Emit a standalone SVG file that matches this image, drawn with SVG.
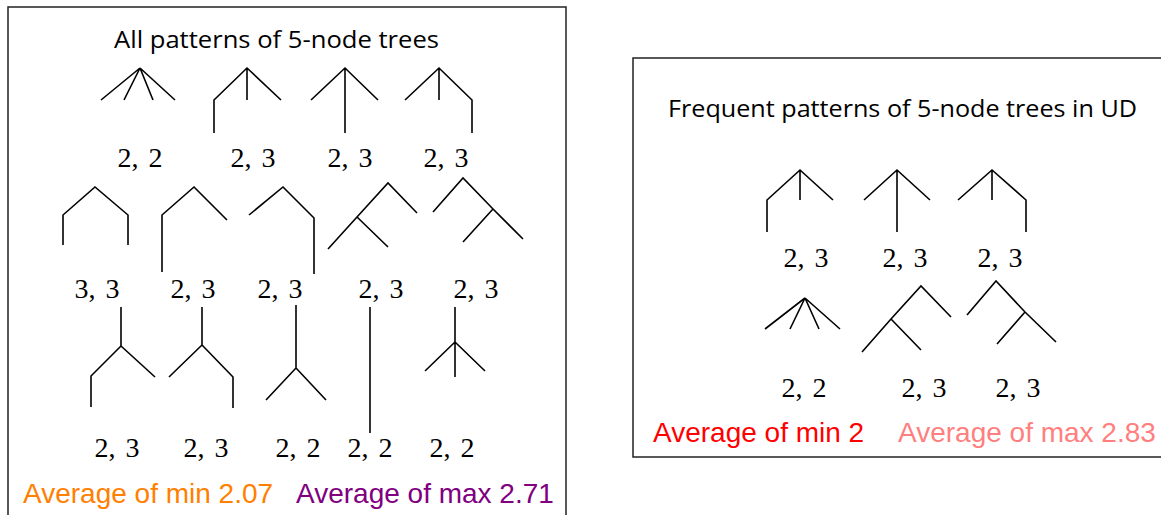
<svg xmlns="http://www.w3.org/2000/svg" width="1161" height="515" viewBox="0 0 1161 515">
<style>
.box{fill:#fff;stroke:#222;stroke-width:1.5}
.t{stroke:#000;stroke-width:1.6;fill:none;stroke-linejoin:miter;stroke-linecap:butt}
.title{font-family:"Open Sans","Liberation Sans",Arial,sans-serif;font-size:23px;fill:#000}
.num{font-family:"Liberation Serif","DejaVu Serif",serif;font-size:28px;fill:#000;word-spacing:3px;text-anchor:middle}
.avg{font-family:"Liberation Sans",Arial,sans-serif;font-size:28px}
</style>
<rect width="1161" height="515" fill="#fff"/>
<g id="left-panel">
<rect class="box" x="8" y="7" width="558" height="520"/>
<text class="title" x="114" y="48" textLength="325" lengthAdjust="spacingAndGlyphs">All patterns of 5-node trees</text>
</g>
<g id="right-panel">
<rect class="box" x="633" y="58" width="540" height="399"/>
<text class="title" x="668" y="117" textLength="469" lengthAdjust="spacingAndGlyphs">Frequent patterns of 5-node trees in UD</text>
</g>
<g id="trees">
<g id="t1"><path class="t" d="M140,68 L101,100 M140,68 L124,100 M140,68 L153,100 M140,68 L175,100"/><text class="num" x="140" y="167">2, 2</text></g>
<g id="t2"><path class="t" d="M214,133 L214,100 L247,68 L281,100 M247,68 L247,100"/><text class="num" x="253" y="167">2, 3</text></g>
<g id="t3"><path class="t" d="M311,100 L345,68 L378,100 M345,68 L345,133"/><text class="num" x="350" y="167">2, 3</text></g>
<g id="t4"><path class="t" d="M405,100 L439,68 L472,100 L472,133 M439,68 L439,100"/><text class="num" x="446" y="167">2, 3</text></g>
<g id="t5"><path class="t" d="M63,245 L63,215 L95,187 L128,215 L128,245"/><text class="num" x="97" y="298">3, 3</text></g>
<g id="t6"><path class="t" d="M162,272 L162,215 L194,187 L227,220"/><text class="num" x="193" y="298">2, 3</text></g>
<g id="t7"><path class="t" d="M249,215 L283,187 L314,218 L314,274"/><text class="num" x="280" y="298">2, 3</text></g>
<g id="t8"><path class="t" d="M328,249 L357,217 L388,183 L417,213 M357,217 L388,247"/><text class="num" x="381" y="298">2, 3</text></g>
<g id="t9"><path class="t" d="M433,212 L463,178 L493,209 L523,239 M493,209 L463,242"/><text class="num" x="476" y="298">2, 3</text></g>
<g id="t10"><path class="t" d="M121,307 L121,346 L91,376 L91,407 M121,346 L155,377"/><text class="num" x="117" y="457">2, 3</text></g>
<g id="t11"><path class="t" d="M202,307 L202,345 L169,377 M202,345 L233,377 L233,408"/><text class="num" x="206" y="457">2, 3</text></g>
<g id="t12"><path class="t" d="M296,305 L296,368 L266,400 M296,368 L326,400"/><text class="num" x="298" y="457">2, 2</text></g>
<g id="t13"><path class="t" d="M370,307 L370,433"/><text class="num" x="370" y="457">2, 2</text></g>
<g id="t14"><path class="t" d="M455,307 L455,377 M455,342 L425,371 M455,342 L485,371"/><text class="num" x="452" y="457">2, 2</text></g>
<g id="r1"><path class="t" d="M767,232 L767,200 L800,170 L833,200 M800,170 L800,200"/><text class="num" x="806" y="267">2, 3</text></g>
<g id="r2"><path class="t" d="M864,200 L897,170 L930,200 M897,170 L897,232"/><text class="num" x="905" y="267">2, 3</text></g>
<g id="r3"><path class="t" d="M958,200 L992,170 L1026,200 L1026,232 M992,170 L992,200"/><text class="num" x="1000" y="267">2, 3</text></g>
<g id="r4"><path class="t" d="M805,298 L765,329 M805,298 L790,329 M805,298 L819,329 M805,298 L840,329"/><text class="num" x="804" y="397">2, 2</text></g>
<g id="r5"><path class="t" d="M862,352 L891,319 L921,286 L951,317 M891,319 L921,350"/><text class="num" x="924" y="397">2, 3</text></g>
<g id="r6"><path class="t" d="M967,315 L996,281 L1025,312 L1056,342 M1025,312 L997,344"/><text class="num" x="1018" y="397">2, 3</text></g>
</g>
<g id="averages">
<text class="avg" x="23" y="503" fill="#FF8000">Average of min 2.07</text>
<text class="avg" x="296" y="503" fill="#800080">Average of max 2.71</text>
<text class="avg" x="653" y="442" fill="#FF0000">Average of min 2</text>
<text class="avg" x="898" y="442" fill="#FF7F7F">Average of max 2.83</text>
</g>
</svg>
